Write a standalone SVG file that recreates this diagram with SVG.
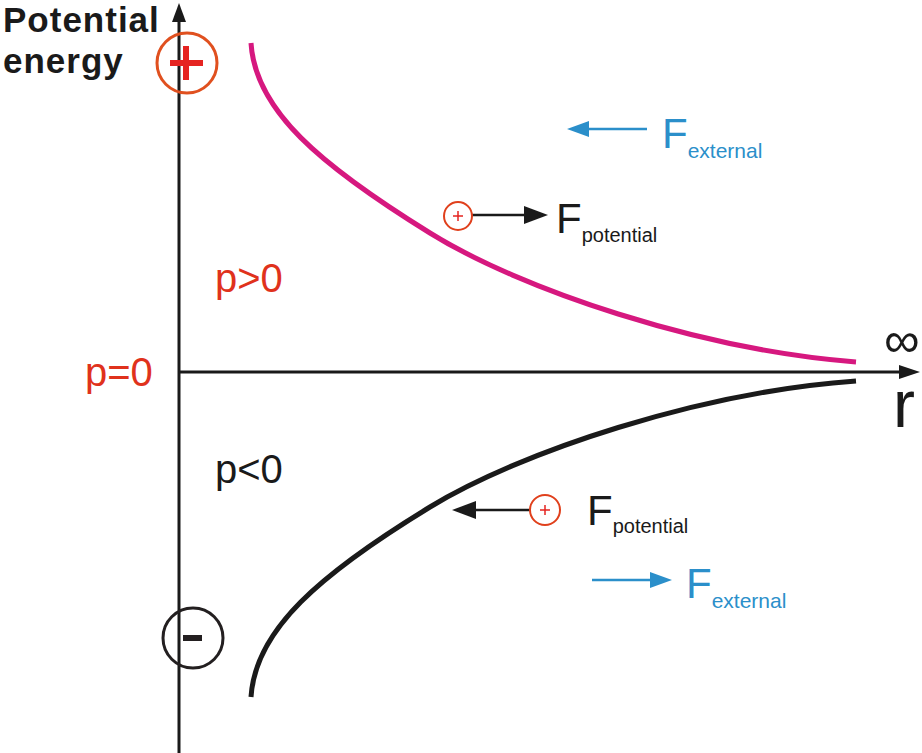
<svg xmlns="http://www.w3.org/2000/svg" width="922" height="753" viewBox="0 0 922 753">
<style>
.ax{stroke:#1a1a1a;stroke-width:3;fill:none}
.txt{font-family:"Liberation Sans",Arial,sans-serif}
.red{fill:#e0321c}
.blk{fill:#1a1a1a}
.blue{fill:#2b8fca}
.fb{stroke:#1a1a1a;stroke-width:2.5;fill:none}
.fbl{stroke:#2b8fca;stroke-width:2.5;fill:none}
.sc{stroke:#e0401c;stroke-width:2;fill:none}
.sp{stroke:#e52421;stroke-width:1.5}
</style>
<rect width="922" height="753" fill="#ffffff"/>
<g id="connectors">
<line class="ax" x1="179" y1="753" x2="179" y2="20"/>
<path d="M179,3 L186,22 L172,22 z" fill="#1a1a1a"/>
<line class="ax" x1="179" y1="372" x2="900" y2="372"/>
<path d="M920,372 L899,365 L899,379 z" fill="#1a1a1a"/>
<path id="upper-curve" d="M251,43 C255,110 320,165 430,233 C520,289 700,350 856,362" fill="none" stroke="#d6187f" stroke-width="5"/>
<path id="lower-curve" d="M251,697 C255,630 320,574 430,507 C520,452 700,392 856,381" fill="none" stroke="#1a1a1a" stroke-width="5"/>
<line class="fb" x1="472" y1="215" x2="528" y2="215"/>
<path d="M548,215 L524,206 L524,224 z" fill="#1a1a1a"/>
<line class="fb" x1="530" y1="510" x2="472" y2="510"/>
<path d="M452,510 L476,501 L476,519 z" fill="#1a1a1a"/>
<line class="fbl" x1="647" y1="129" x2="585" y2="129"/>
<path d="M567,129 L589,121 L589,137 z" fill="#2b8fca"/>
<line class="fbl" x1="592" y1="580" x2="654" y2="580"/>
<path d="M672,580 L650,572 L650,588 z" fill="#2b8fca"/>
</g>
<g id="axis-label">
<text class="txt blk" x="3" y="32" font-size="35" font-weight="bold" letter-spacing="1">Potential</text>
<text class="txt blk" x="3" y="73" font-size="35" font-weight="bold" letter-spacing="1">energy</text>
</g>
<g id="plus-charge">
<circle cx="187" cy="63" r="30" fill="none" stroke="#e0501f" stroke-width="3"/>
<path d="M170,63 H203 M186,46 V80" stroke="#e52421" stroke-width="6"/>
</g>
<g id="minus-charge">
<circle cx="193" cy="638" r="30" fill="none" stroke="#231f20" stroke-width="3"/>
<path d="M183,638 H202" stroke="#231f20" stroke-width="6"/>
</g>
<g id="labels">
<text class="txt red" x="215" y="292" font-size="40">p&gt;0</text>
<text class="txt red" x="85" y="386" font-size="40">p=0</text>
<text class="txt blk" x="215" y="483" font-size="40">p&lt;0</text>
<text class="txt blk" x="884" y="357" font-size="50">∞</text>
<text class="txt blk" x="893" y="427" font-size="66">r</text>
</g>
<g id="upper-force">
<circle class="sc" cx="458" cy="216" r="14"/>
<path class="sp" d="M453,216 H463 M458,211 V221"/>
<text class="txt blk" x="556" y="233" font-size="42">F<tspan font-size="20" dy="9">potential</tspan></text>
</g>
<g id="lower-force">
<circle class="sc" cx="545" cy="510" r="15"/>
<path class="sp" d="M540,510 H550 M545,505 V515"/>
<text class="txt blk" x="587" y="525" font-size="42">F<tspan font-size="20" dy="8">potential</tspan></text>
</g>
<g id="upper-external">
<text class="txt blue" x="662" y="148" font-size="42">F<tspan font-size="21" dy="10">external</tspan></text>
</g>
<g id="lower-external">
<text class="txt blue" x="686" y="598" font-size="42">F<tspan font-size="21" dy="10">external</tspan></text>
</g>
</svg>
